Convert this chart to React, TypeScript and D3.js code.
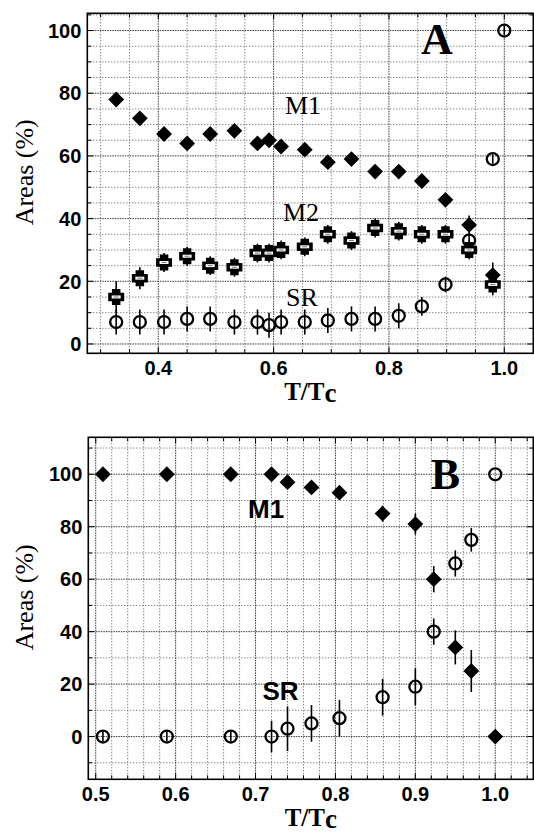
import React from 'react';
import * as d3 from 'd3';

// panel A: reduced temperature of each measurement
const tempA = [0.327, 0.368, 0.41, 0.45, 0.49, 0.532, 0.572, 0.592, 0.613, 0.654, 0.694, 0.735, 0.776, 0.817, 0.857, 0.898, 0.939, 0.98];
const tempSrA = [0.327, 0.368, 0.41, 0.45, 0.49, 0.532, 0.572, 0.592, 0.613, 0.654, 0.694, 0.735, 0.776, 0.817, 0.857, 0.898, 0.939, 0.98, 1.0];
const m1A = [78, 72, 67, 64, 67, 68, 64, 65, 63, 62, 58, 59, 55, 55, 52, 46, 38, 22];
const m1ErrA = [0, 0, 0, 0, 0, 0, 0, 0, 0, 0, 0, 0, 0, 0, 0, 0, 3, 4];
const m2A = [15, 21, 26, 28, 25, 24.5, 29, 29, 30, 31, 35, 33, 37, 36, 35, 35, 30, 19];
const m2ErrA = [5, 3.5, 3, 3, 3, 3, 3, 3, 3, 3, 3, 3, 3, 3, 3, 3, 3, 3.5];
const srA = [7, 7, 7, 8, 8, 7, 7, 6, 7, 7, 7.5, 8, 8, 9, 12, 19, 33, 59, 100];
const srErrA = [4, 4, 4, 4, 4, 4, 4, 4, 4, 4, 4, 4, 4, 4, 3, 2.5, 2, 1.5, 1.5];

// panel B
const tempB = [0.509, 0.589, 0.669, 0.72, 0.74, 0.77, 0.805, 0.859, 0.9, 0.923, 0.95, 0.97, 1.0];
const m1B = [100, 100, 100, 100, 97, 95, 93, 85, 81, 60, 34, 25, 0];
const m1ErrB = [0, 0, 0, 0, 0, 0, 0, 3, 4, 5, 6.5, 8, 0];
const srB = [0, 0, 0, 0, 3, 5, 7, 15, 19, 40, 66, 75, 100];
const srErrB = [2, 2, 2, 6, 8.5, 7, 7, 7, 7, 5, 5, 4.5, 0];

// ticks and grids
const xTicksA = [0.4, 0.6, 0.8, 1.0];
const yTicksA = [0, 20, 40, 60, 80, 100];
const xGridA = d3.range(0.3, 1.04, 0.05);
const yGridA = d3.range(0, 106, 5);
const xTicksB = [0.5, 0.6, 0.7, 0.8, 0.9, 1.0];
const yTicksB = [0, 20, 40, 60, 80, 100];
const xGridB = d3.range(0.5, 1.045, 0.02);
const yGridB = d3.range(-10, 111, 10);

const SERIF = '"Liberation Serif", "Times New Roman", Times, serif';
const SANS = '"Liberation Sans", Arial, Helvetica, sans-serif';

type G = d3.Selection<SVGGElement, unknown, null, undefined>;
type Lin = d3.ScaleLinear<number, number>;
type Pt = { t: number; v: number; e: number };

const zip = (t: number[], v: number[], e: number[]): Pt[] => t.map((d, i) => ({ t: d, v: v[i], e: e[i] }));

const near = (list: number[], d: number) => list.some(t => Math.abs(t - d) < 1e-6);

function drawFrame(g: G, x: Lin, y: Lin, xGrid: number[], yGrid: number[], xTicks: number[], yTicks: number[]) {
    const [x0, x1] = x.range();
    const [y0, y1] = y.range();

    // dotted grid
    g.append('g').selectAll('line').data(xGrid).join('line')
        .attr('x1', d => x(d)).attr('x2', d => x(d))
        .attr('y1', y1).attr('y2', y0)
        .attr('stroke', d => (near(xTicks, d) ? '#222' : '#444'))
        .attr('stroke-width', 0.9)
        .attr('stroke-dasharray', d => (near(xTicks, d) ? '1.5,1' : '1,2'));
    g.append('g').selectAll('line').data(yGrid).join('line')
        .attr('y1', d => y(d)).attr('y2', d => y(d))
        .attr('x1', x0).attr('x2', x1)
        .attr('stroke', d => (near(yTicks, d) ? '#222' : '#444'))
        .attr('stroke-width', 0.9)
        .attr('stroke-dasharray', d => (near(yTicks, d) ? '1.5,1' : '1,2'));

    // inward tick marks
    const tk = g.append('g').attr('stroke', '#000').attr('stroke-width', 1);
    xGrid.forEach(d => {
        const len = near(xTicks, d) ? 6 : 4;
        tk.append('line').attr('x1', x(d)).attr('x2', x(d)).attr('y1', y0).attr('y2', y0 - len);
        tk.append('line').attr('x1', x(d)).attr('x2', x(d)).attr('y1', y1).attr('y2', y1 + len);
    });
    yGrid.forEach(d => {
        const len = near(yTicks, d) ? 6 : 4;
        tk.append('line').attr('y1', y(d)).attr('y2', y(d)).attr('x1', x0).attr('x2', x0 + len);
        tk.append('line').attr('y1', y(d)).attr('y2', y(d)).attr('x1', x1).attr('x2', x1 - len);
    });

    g.append('rect')
        .attr('x', x0).attr('y', y1)
        .attr('width', x1 - x0).attr('height', y0 - y1)
        .attr('fill', 'none').attr('stroke', '#000').attr('stroke-width', 1.6);

    // tick labels
    g.append('g').selectAll('text').data(xTicks).join('text')
        .attr('x', d => x(d)).attr('y', y0 + 22)
        .attr('text-anchor', 'middle')
        .attr('font-family', SANS).attr('font-weight', 'bold').attr('font-size', 20)
        .text(d => d3.format('.1f')(d));
    g.append('g').selectAll('text').data(yTicks).join('text')
        .attr('x', x0 - 6).attr('y', d => y(d)).attr('dy', '0.36em')
        .attr('text-anchor', 'end')
        .attr('font-family', SANS).attr('font-weight', 'bold').attr('font-size', 20)
        .text(d => d);

    // axis titles
    const xt = g.append('text')
        .attr('x', (x0 + x1) / 2).attr('y', y0 + 47)
        .attr('text-anchor', 'middle')
        .attr('font-family', SERIF).attr('font-weight', 'bold').attr('font-size', 25);
    xt.append('tspan').text('T/T');
    xt.append('tspan').attr('font-size', 27).attr('dy', 2).text('c');

    g.append('text')
        .attr('transform', `translate(33, ${(y0 + y1) / 2 - 11}) rotate(-90)`)
        .attr('text-anchor', 'middle')
        .attr('font-family', SERIF).attr('font-size', 26)
        .text('Areas (%)');
}

function drawErrors(g: G, x: Lin, y: Lin, pts: Pt[]) {
    g.append('g').selectAll('line').data(pts.filter(d => d.e > 0)).join('line')
        .attr('x1', d => x(d.t)).attr('x2', d => x(d.t))
        .attr('y1', d => y(d.v - d.e)).attr('y2', d => y(d.v + d.e))
        .attr('stroke', '#000').attr('stroke-width', 1.6);
}

const diamond = d3.symbol().type(d3.symbolSquare).size(125);

function drawDiamonds(g: G, x: Lin, y: Lin, pts: Pt[]) {
    g.append('g').selectAll('path').data(pts).join('path')
        .attr('d', diamond as any)
        .attr('transform', d => `translate(${x(d.t)}, ${y(d.v)}) rotate(45)`)
        .attr('fill', '#000');
}

function drawCircles(g: G, x: Lin, y: Lin, pts: Pt[]) {
    g.append('g').selectAll('circle').data(pts).join('circle')
        .attr('cx', d => x(d.t)).attr('cy', d => y(d.v)).attr('r', 6)
        .attr('fill', 'none').attr('stroke', '#000').attr('stroke-width', 2.3);
}

const plusPath = (s: number, t: number) => {
    const a = s / 2;
    const b = t / 2;
    return `M${-b},${-a}H${b}V${-b}H${a}V${b}H${b}V${a}H${-b}V${b}H${-a}V${-b}H${-b}Z`;
};

function drawPluses(g: G, x: Lin, y: Lin, pts: Pt[]) {
    const pg = g.append('g').selectAll('g').data(pts).join('g')
        .attr('transform', d => `translate(${x(d.t)}, ${y(d.v)})`);
    pg.append('path').attr('d', plusPath(16, 8.5)).attr('fill', '#000');
    pg.append('rect').attr('x', -4.5).attr('y', -1.5).attr('width', 9).attr('height', 3).attr('fill', '#fff');
    pg.append('line').attr('x1', -2.5).attr('x2', 2.5).attr('y1', 0).attr('y2', 0)
        .attr('stroke', '#777').attr('stroke-width', 1);
}

function label(g: G, text: string, px: number, py: number, family: string, size: number, bold: boolean, anchor = 'start') {
    g.append('text')
        .attr('x', px).attr('y', py)
        .attr('text-anchor', anchor)
        .attr('font-family', family).attr('font-size', size)
        .attr('font-weight', bold ? 'bold' : 'normal')
        .text(text);
}

class App extends React.Component {
    myRef: React.RefObject<SVGSVGElement | null> = React.createRef();

    componentDidMount() {
        const svg = d3.select(this.myRef.current);
        svg.selectAll('*').remove();

        // ---- panel A
        const gA = svg.append('g') as unknown as G;
        const xA = d3.scaleLinear().domain([0.2769, 1.0503]).range([87.3, 533.3]);
        const yA = d3.scaleLinear().domain([-2.97, 105.5]).range([353.3, 13.3]);
        drawFrame(gA, xA, yA, xGridA, yGridA, xTicksA, yTicksA);

        const m1PtsA = zip(tempA, m1A, m1ErrA);
        const m2PtsA = zip(tempA, m2A, m2ErrA);
        const srPtsA = zip(tempSrA, srA, srErrA);
        drawErrors(gA, xA, yA, m1PtsA);
        drawErrors(gA, xA, yA, m2PtsA);
        drawDiamonds(gA, xA, yA, m1PtsA);
        drawErrors(gA, xA, yA, srPtsA);
        drawCircles(gA, xA, yA, srPtsA);
        drawPluses(gA, xA, yA, m2PtsA);

        label(gA, 'A', 437, 54, SERIF, 44, true, 'middle');
        label(gA, 'M1', 285, 114, SERIF, 26, false);
        label(gA, 'M2', 283, 221, SERIF, 26, false);
        label(gA, 'SR', 286, 305.5, SERIF, 26, false);

        // ---- panel B
        const gB = svg.append('g') as unknown as G;
        const xB = d3.scaleLinear().domain([0.4907, 1.0476]).range([88.3, 533.3]);
        const yB = d3.scaleLinear().domain([-16.3, 114.1]).range([779.3, 437.3]);
        drawFrame(gB, xB, yB, xGridB, yGridB, xTicksB, yTicksB);

        const m1PtsB = zip(tempB, m1B, m1ErrB);
        const srPtsB = zip(tempB, srB, srErrB);
        drawErrors(gB, xB, yB, m1PtsB);
        drawDiamonds(gB, xB, yB, m1PtsB);
        drawErrors(gB, xB, yB, srPtsB);
        drawCircles(gB, xB, yB, srPtsB);

        label(gB, 'B', 445.5, 489, SERIF, 44, true, 'middle');
        label(gB, 'M1', 248, 518, SANS, 26, true);
        label(gB, 'SR', 262.5, 700, SANS, 26, true);
    }

    render() {
        return (
            <svg
                ref={this.myRef}
                width={534}
                height={836}
                style={{ position: 'absolute', left: 0, top: 0, background: '#fff' }}
            />
        );
    }
}

export default App;
